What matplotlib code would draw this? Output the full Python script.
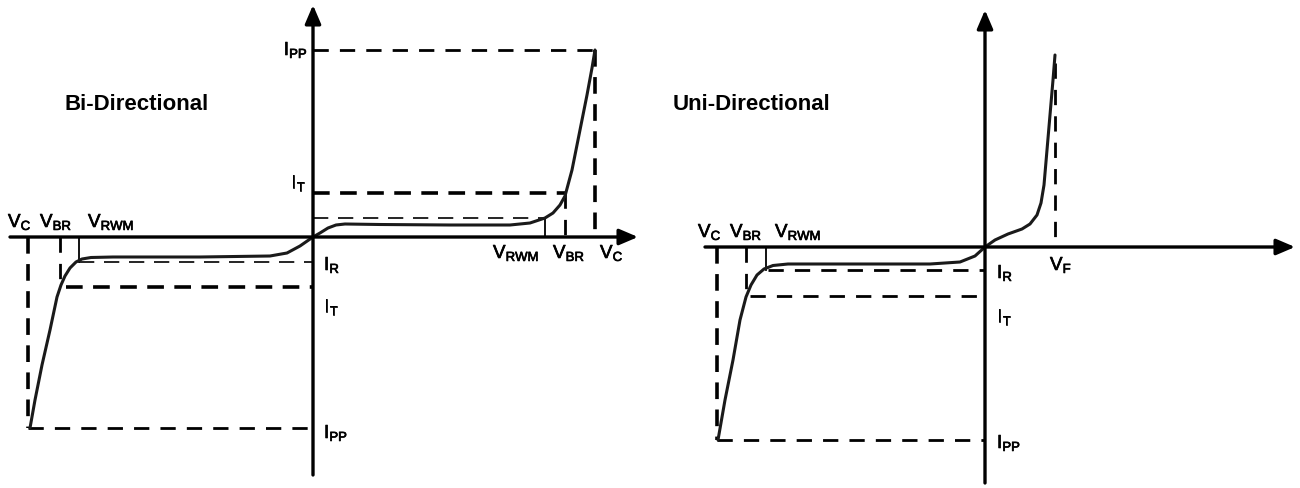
import matplotlib.pyplot as plt
import matplotlib.patheffects as pe

plt.rcParams['font.family'] = 'Liberation Sans'
plt.rcParams['mathtext.fontset'] = 'custom'
plt.rcParams['mathtext.rm'] = 'Liberation Sans'
plt.rcParams['lines.scale_dashes'] = False

# Bi-directional I-V curve (arbitrary units, origin at axis crossing)
bi_v = [-283, -278, -271, -263, -256, -252, -248, -243, -237, -231, -222, -200, -113, -43, -26, -13,
        0, 7, 15, 23, 32, 67, 137, 197, 217, 232, 240, 247, 252, 259, 267, 274, 279, 282]
bi_i = [-191, -163, -128, -93, -60, -48, -39, -31, -25, -22, -20.5, -20, -20, -19, -16, -9,
        0, 4, 9, 12, 13, 12.5, 12, 12, 14, 19, 24, 32, 41, 67, 107, 142, 169, 187]
# reference levels: (negative side, positive side)
bi_vc = (-285, 282)
bi_vbr = (-253, 252)
bi_vrwm = (-234, 232)
bi_ipp = (-191, 187)
bi_it = (-50, 44)
bi_ir = (-25, 19)

# Uni-directional I-V curve
uni_v = [-267, -260, -252, -245, -239, -234, -228, -221, -212, -197, -135, -55, -25, -10,
         0, 10, 23, 37, 45, 52, 56, 59, 62, 65, 68, 70]
uni_i = [-193, -153, -113, -73, -50, -38, -28, -22, -18.5, -17, -17, -17, -15, -9,
         0, 7, 13, 18, 23, 32, 44, 62, 97, 132, 167, 192]
uni_vc = -268
uni_vbr = -239
uni_vrwm = -219
uni_ipp = -193
uni_it = -49
uni_ir = -23
uni_vf = 70

fig = plt.figure(figsize=(13, 4.88), dpi=100)
ax1 = fig.add_axes([0, 0, 0.5, 1])
ax2 = fig.add_axes([0.5, 0, 0.5, 1])
ax1.set_xlim(-313, 337)
ax1.set_ylim(-251, 237)
ax2.set_xlim(-335, 315)
ax2.set_ylim(-241, 247)
for ax in (ax1, ax2):
    ax.axis('off')

K = 'black'
thick = dict(color=K, lw=2.6, dashes=(12, 7.5))
mid = dict(color=K, lw=2.0, dashes=(11, 8))
thin = dict(color=K, lw=1.2, dashes=(11, 7))
fine = dict(color=K, lw=1.3)
fs = 13.5
stroke = [pe.withStroke(linewidth=0.5, foreground=K)]


def label(ax, x, y, s, ha='left'):
    ax.text(x, y, s, fontsize=fs, ha=ha, va='baseline', path_effects=stroke)


def axes_arrows(ax, x0, x1, y0, y1):
    style = '-|>,head_length=0.75,head_width=0.32'
    ax.annotate('', xy=(x1, 0), xytext=(x0, 0),
                arrowprops=dict(arrowstyle=style, lw=2.4, color=K, shrinkA=0, shrinkB=0,
                                mutation_scale=15))
    ax.annotate('', xy=(0, y1), xytext=(0, y0),
                arrowprops=dict(arrowstyle=style, lw=2.4, color=K, shrinkA=0, shrinkB=0,
                                mutation_scale=15))


# ---- Bi-directional ----
ax = ax1
axes_arrows(ax, -303, 325, -238, 232)
# positive side
ax.plot([0, bi_vc[1]], [bi_ipp[1]] * 2, **mid)
ax.plot([bi_vc[1]] * 2, [bi_ipp[1], 0], **thick)
ax.plot([0, bi_vbr[1]], [bi_it[1]] * 2, **thick)
ax.plot([bi_vbr[1]] * 2, [bi_it[1], 0], **mid)
ax.plot([0, bi_vrwm[1]], [bi_ir[1]] * 2, **thin)
ax.plot([bi_vrwm[1]] * 2, [bi_ir[1], 0], **fine)
# negative side
ax.plot([bi_vc[0], 0], [bi_ipp[0]] * 2, **mid)
ax.plot([bi_vc[0]] * 2, [0, bi_ipp[0]], **thick)
ax.plot([bi_vbr[0] + 6, 0], [bi_it[0]] * 2, **thick)
ax.plot([bi_vbr[0]] * 2, [0, bi_it[0]], **mid)
ax.plot([bi_vrwm[0], 0], [bi_ir[0]] * 2, **thin)
ax.plot([bi_vrwm[0]] * 2, [0, bi_ir[0]], **fine)
ax.plot(bi_v, bi_i, color='#1a1a1a', lw=2.2, solid_joinstyle='round', solid_capstyle='round')

ax.text(-248, 133, 'Bi-Directional', fontsize=16, fontweight='bold', va='center', ha='left')
label(ax, -5, 182, r'$\mathrm{I_{PP}}$', ha='right')
label(ax, -7, 49, r'$\mathrm{I_{T}}$', ha='right')
label(ax, 11, -33, r'$\mathrm{I_{R}}$')
label(ax, 11, -75, r'$\mathrm{I_{T}}$')
label(ax, 11, -201, r'$\mathrm{I_{PP}}$')
label(ax, -305, 10, r'$\mathrm{V_{C}}$')
label(ax, -273, 10, r'$\mathrm{V_{BR}}$')
label(ax, -225, 10, r'$\mathrm{V_{RWM}}$')
label(ax, 180, -21, r'$\mathrm{V_{RWM}}$')
label(ax, 240, -21, r'$\mathrm{V_{BR}}$')
label(ax, 287, -21, r'$\mathrm{V_{C}}$')

# ---- Uni-directional ----
ax = ax2
axes_arrows(ax, -280, 310, -236, 237)
ax.plot([uni_vc, 0], [uni_ipp] * 2, **mid)
ax.plot([uni_vc] * 2, [0, uni_ipp], **thick)
ax.plot([uni_vbr + 4, 0], [uni_it] * 2, **mid)
ax.plot([uni_vbr] * 2, [0, uni_it], **mid)
ax.plot([uni_vrwm + 2, 0], [uni_ir] * 2, **mid)
ax.plot([uni_vrwm] * 2, [0, uni_ir], **fine)
ax.plot([uni_vf] * 2, [uni_i[-1] - 8, 0], **mid)
ax.plot(uni_v, uni_i, color='#1a1a1a', lw=2.2, solid_joinstyle='round', solid_capstyle='round')

ax.text(-312, 143, 'Uni-Directional', fontsize=16, fontweight='bold', va='center', ha='left')
label(ax, 12, -31, r'$\mathrm{I_{R}}$')
label(ax, 12, -75, r'$\mathrm{I_{T}}$')
label(ax, 12, -201, r'$\mathrm{I_{PP}}$')
label(ax, 65, -23, r'$\mathrm{V_{F}}$')
label(ax, -287, 10, r'$\mathrm{V_{C}}$')
label(ax, -255, 10, r'$\mathrm{V_{BR}}$')
label(ax, -210, 10, r'$\mathrm{V_{RWM}}$')

fig.savefig('out.png', dpi=100, facecolor='white')
